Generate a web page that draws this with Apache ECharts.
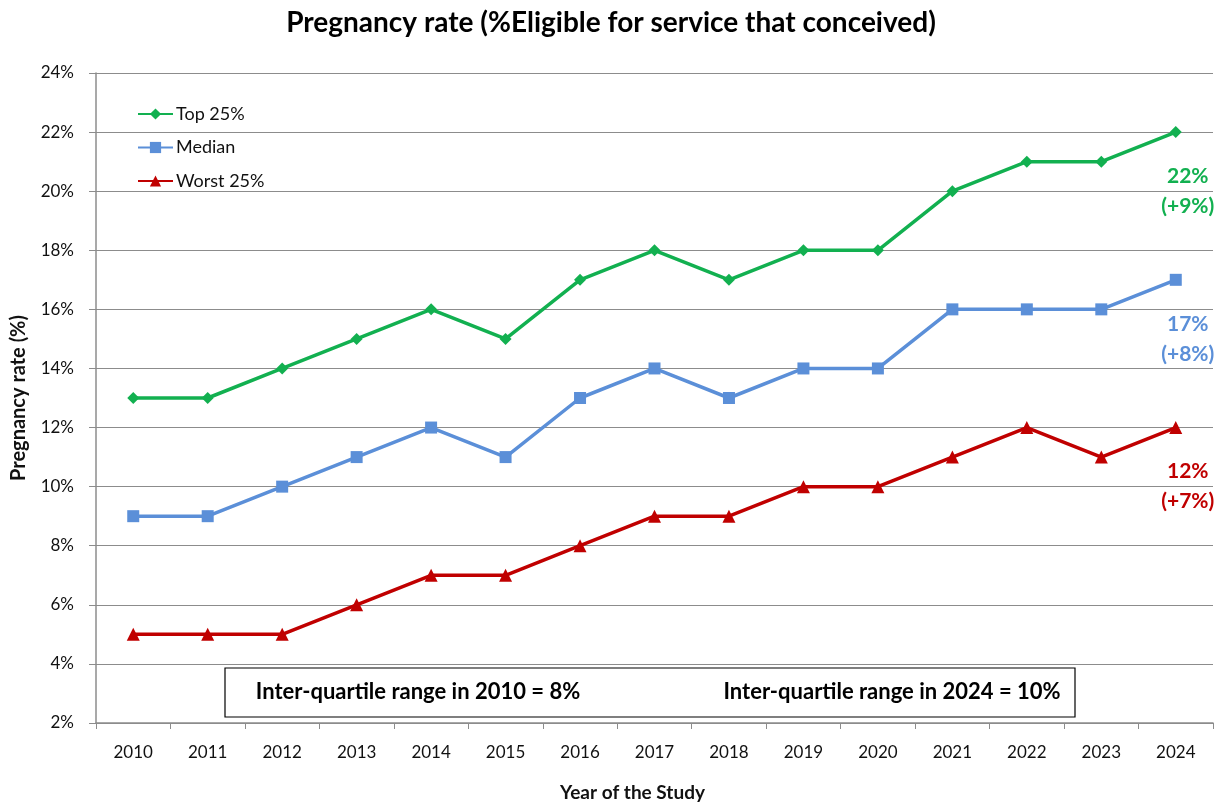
<!DOCTYPE html>
<html>
<head>
<meta charset="utf-8">
<script src="https://cdn.jsdelivr.net/npm/echarts@6/dist/echarts.min.js"></script>
<style>
  html, body { margin: 0; padding: 0; background: #fff; }
  #chart { width: 1222px; height: 804px; }
</style>
</head>
<body>
<div id="chart"></div>
<script>
// Study years and pregnancy rates (%) per quartile group
const years = ['2010','2011','2012','2013','2014','2015','2016','2017','2018','2019','2020','2021','2022','2023','2024'];
const top25 = [13, 13, 14, 15, 16, 15, 17, 18, 17, 18, 18, 20, 21, 21, 22];
const median = [9, 9, 10, 11, 12, 11, 13, 14, 13, 14, 14, 16, 16, 16, 17];
const worst25 = [5, 5, 5, 6, 7, 7, 8, 9, 9, 10, 10, 11, 12, 11, 12];

const FONT = 'Lato, "Open Sans", sans-serif';
const GRAY = '#8c8c8c';

const chart = echarts.init(document.getElementById('chart'));

// End-of-line label: final value and change since the first year
function endLabel(values, color) {
  const last = values[values.length - 1];
  const diff = last - values[0];
  return values.map((v, i) => i === values.length - 1 ? {
    value: v,
    label: {
      show: true,
      position: 'inside',
      offset: [12, 59],
      align: 'center',
      formatter: `${last}%\n(${diff >= 0 ? '+' : ''}${diff}%)`,
      color: color,
      fontFamily: FONT,
      fontWeight: 'bold',
      fontSize: 21,
      lineHeight: 30
    }
  } : v);
}

const iqrFirst = top25[0] - worst25[0];
const iqrLast = top25[top25.length - 1] - worst25[worst25.length - 1];

function makeSeries(name, values, color, symbol, size) {
  return {
    name: name,
    type: 'line',
    data: endLabel(values, color),
    symbol: symbol,
    symbolSize: size,
    lineStyle: { color: color, width: 3.5 },
    itemStyle: { color: color },
    emphasis: { disabled: true },
    z: 3
  };
}

chart.setOption({
  animation: false,
  textStyle: { fontFamily: FONT },
  title: {
    text: 'Pregnancy rate (%Eligible for service that conceived)',
    left: 'center',
    top: 4,
    textStyle: { fontFamily: FONT, fontSize: 28, fontWeight: 'bold', color: '#000' }
  },
  legend: {
    orient: 'vertical',
    left: 137,
    top: 105,
    padding: 0,
    itemWidth: 35,
    itemHeight: 14,
    itemGap: 15.5,
    textStyle: { fontFamily: FONT, fontSize: 18, color: '#111', padding: [0, 0, 0, -2] },
    data: ['Top 25%', 'Median', 'Worst 25%']
  },
  grid: { left: 96, right: 9, top: 73, bottom: 81, containLabel: false, outerBoundsMode: 'none' },
  xAxis: {
    type: 'category',
    data: years,
    boundaryGap: true,
    name: 'Year of the Study',
    nameLocation: 'middle',
    nameGap: 60,
    nameTextStyle: { fontFamily: FONT, fontSize: 19, fontWeight: 'bold', color: '#111', padding: [0, 44, 0, 0] },
    axisLine: { lineStyle: { color: GRAY, width: 1.5 } },
    axisTick: { show: true, alignWithLabel: false, length: 6, lineStyle: { color: GRAY } },
    axisLabel: { fontFamily: FONT, fontSize: 17, color: '#111', margin: 21 },
    splitLine: { show: false }
  },
  yAxis: {
    type: 'value',
    min: 2,
    max: 24,
    interval: 2,
    name: 'Pregnancy rate (%)',
    nameLocation: 'middle',
    nameGap: 67,
    nameTextStyle: { fontFamily: FONT, fontSize: 20, fontWeight: 'bold', color: '#111' },
    axisLine: { show: true, lineStyle: { color: GRAY, width: 1.5 } },
    axisTick: { show: true, length: 7, lineStyle: { color: GRAY } },
    axisLabel: { fontFamily: FONT, fontSize: 17, color: '#111', margin: 22, formatter: '{value}%' },
    splitLine: { show: true, lineStyle: { color: GRAY, width: 1.2 } }
  },
  series: [
    makeSeries('Top 25%', top25, '#12b050', 'diamond', 12),
    makeSeries('Median', median, '#5b8fd8', 'rect', 12),
    makeSeries('Worst 25%', worst25, '#c00000', 'triangle', 13)
  ],
  graphic: [
    {
      type: 'rect',
      shape: { x: 225, y: 668, width: 850, height: 49 },
      style: { fill: '#fff', stroke: '#000', lineWidth: 1.2 },
      z: 10
    },
    {
      type: 'text',
      x: 418, y: 692,
      style: {
        text: `Inter-quartile range in ${years[0]} = ${iqrFirst}%`,
        font: `bold 22px ${FONT}`,
        fill: '#000', align: 'center', verticalAlign: 'middle'
      },
      z: 11
    },
    {
      type: 'text',
      x: 892, y: 692,
      style: {
        text: `Inter-quartile range in ${years[years.length - 1]} = ${iqrLast}%`,
        font: `bold 22px ${FONT}`,
        fill: '#000', align: 'center', verticalAlign: 'middle'
      },
      z: 11
    }
  ]
});
</script>
</body>
</html>
